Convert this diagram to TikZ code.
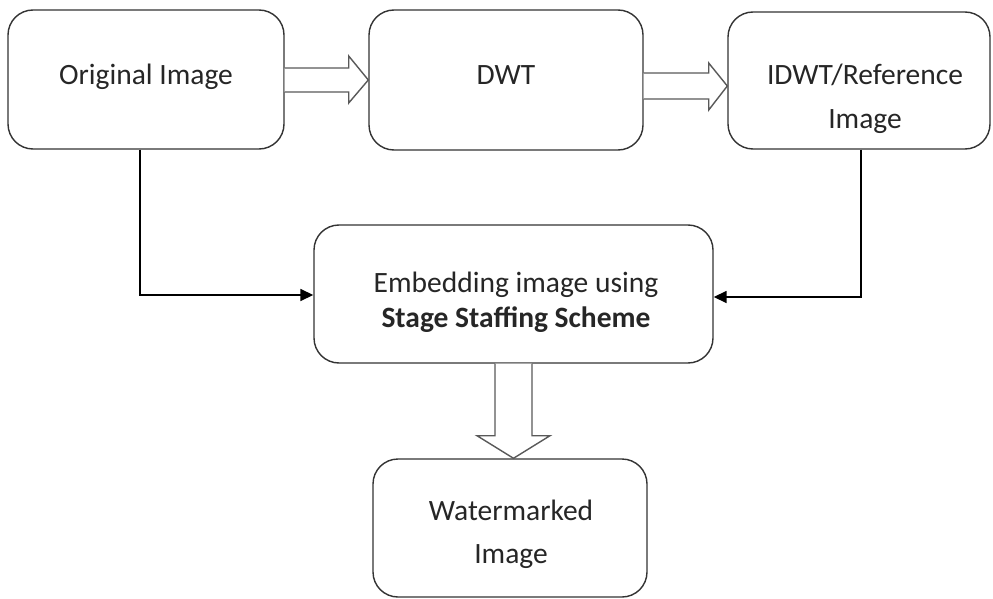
\documentclass[tikz,border=0pt]{standalone}
\usepackage{fontspec}
\setmainfont{Carlito}
\usetikzlibrary{arrows.meta,calc}
\begin{document}
\begin{tikzpicture}[x=1pt,y=-1pt,
  box/.style={draw=black!80, line width=1.4pt, rounded corners=25pt, fill=white, inner sep=0pt},
  txt/.style={anchor=base, inner sep=0pt, font=\fontsize{29.5}{35}\selectfont, text=black!85},
  conn/.style={draw=black, line width=1.6pt, -{Triangle[length=13pt,width=12pt]}},
  hollow/.style={draw=black!65, line width=1.4pt, fill=white, line join=miter}]
\useasboundingbox (0,0) rectangle (993,599);
% boxes
\node[box, minimum width=276pt, minimum height=139pt] (orig) at (146,79.5) {};
\node[box, minimum width=274pt, minimum height=140pt] (dwt) at (506,80) {};
\node[box, minimum width=262pt, minimum height=137pt] (idwt) at (859,80.5) {};
\node[box, minimum width=399pt, minimum height=138pt] (emb) at (513.5,294) {};
\node[box, minimum width=274pt, minimum height=138pt] (wm) at (510,528) {};
% texts
\node[txt] (origT) at (146,85) {Original Image};
\node[txt] (dwtT) at (506,85) {DWT};
\node[txt] (idwtT1) at (865,85) {IDWT/Reference};
\node[txt] (idwtT2) at (865,129) {Image};
\node[txt] (embT1) at (516,292) {Embedding image using};
\node[txt] (embT2) at (516,327) {\bfseries Stage Staffing Scheme};
\node[txt] (wmT1) at (511,520) {Watermarked};
\node[txt] (wmT2) at (511,563) {Image};
% connectors
\coordinate (c1) at (140,295);
\coordinate (c2) at (861,297);
\draw[conn] (orig.south -| c1) -- (c1) -- (c1 -| emb.west);
\draw[conn] (idwt.south -| c2) -- (c2) -- (c2 -| emb.east);
% hollow arrows
\coordinate (h1) at ($(orig.east)+(0,0.5)$);
\draw[hollow] ($(h1)+(0,-12)$) -- ($(h1)+(64,-12)$) -- ($(h1)+(64,-24)$) -- (h1 -| dwt.west)
  -- ($(h1)+(64,23)$) -- ($(h1)+(64,12)$) -- ($(h1)+(0,12)$);
\coordinate (h2) at ($(dwt.east)+(0,6)$);
\draw[hollow] ($(h2)+(0,-13)$) -- ($(h2)+(65,-13)$) -- ($(h2)+(65,-23)$) -- (h2 -| idwt.west)
  -- ($(h2)+(65,24)$) -- ($(h2)+(65,13)$) -- ($(h2)+(0,13)$);
\coordinate (h3) at (emb.south);
\draw[hollow] ($(h3)+(-18.5,0)$) -- ($(h3)+(-18.5,72)$) -- ($(h3)+(-36.5,72)$) -- (h3 |- wm.north)
  -- ($(h3)+(36.5,72)$) -- ($(h3)+(18.5,72)$) -- ($(h3)+(18.5,0)$);
\end{tikzpicture}
\end{document}
